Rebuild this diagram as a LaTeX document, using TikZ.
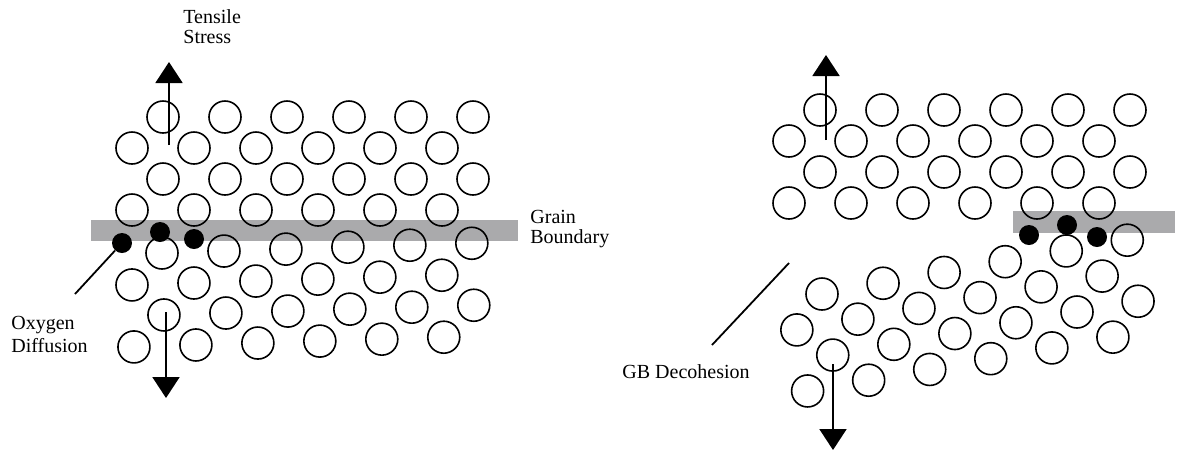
\documentclass[tikz,border=0pt]{standalone}
\usepackage{fontspec}
\setmainfont{Liberation Serif}
\usetikzlibrary{positioning}
\usetikzlibrary{arrows.meta}

\definecolor{gbgray}{RGB}{170,170,172}
\tikzset{
  atom/.style={circle, draw, line width=0.8pt, minimum size=16pt, inner sep=0pt},
  oxygen/.style={circle, fill=black, minimum size=10pt, inner sep=0pt},
  stress/.style={line width=1pt, ->},
  pointer/.style={line width=0.9pt},
  caption/.style={inner sep=0pt, align=left},
}

\begin{document}
\begin{tikzpicture}[x=0.5pt, y=-0.5pt, >={Triangle[length=10.5pt,width=13.5pt]},
    font=\fontsize{10}{10}\selectfont]
    \useasboundingbox (0,0) rectangle (1180,452);

    % grain boundaries go under the atoms
    \fill[gbgray] (91,220) rectangle (518,241);
    \fill[gbgray] (1013,211) rectangle (1175,233);

    % four grains: name/origin/tilt
    \foreach \g/\ox/\oy/\rot in {A/163/117/0, B/162/253/1.8, C/820/110/0, D/822/294/10} {
      \begin{scope}[shift={(\ox,\oy)}, rotate=\rot]
        \foreach \r in {0,...,3}
          \foreach \c in {0,...,5}
            \node[atom] (\g\r\c) at ({62*\c-31*mod(\r,2)}, {31*\r}) {};
      \end{scope}
    }

    % oxygen at the boundary
    \node[oxygen] (O1) at (122,243) {};
    \node[oxygen] (O2) at (160,232) {};
    \node[oxygen] (O3) at (194,239) {};
    \node[oxygen] (O4) at (1029,235) {};
    \node[oxygen] (O5) at (1067,225) {};
    \node[oxygen] (O6) at (1097,237) {};

    % tensile stress arrows
    \coordinate (up1) at (169,145);   \coordinate (up1t) at (169,62);
    \coordinate (dn1) at (166,312);   \coordinate (dn1t) at (166,398);
    \coordinate (up2) at (826,140);   \coordinate (up2t) at (826,55);
    \coordinate (dn2) at (833,364);   \coordinate (dn2t) at (833,450);
    \draw[stress] (up1) -- (up1t);
    \draw[stress] (dn1) -- (dn1t);
    \draw[stress] (up2) -- (up2t);
    \draw[stress] (dn2) -- (dn2t);

    % labels
    \node[caption, anchor=north west] (tensile) at (183,9) {Tensile\\Stress};
    \node[caption, anchor=north west] (boundary) at (530,210) {Grain\\Boundary};
    \node[caption, anchor=north west] (diffusion) at (11,316) {Oxygen\\[1.5pt]Diffusion};
    \node[caption, anchor=base west] (decohesion) at (622,378) {GB Decohesion};

    \coordinate (oxytail) at (75,294);
    \coordinate (gbtail) at (712,345);
    \coordinate (gbhead) at (789,263);
    \draw[pointer] (O1) -- (oxytail);
    \draw[pointer] (gbtail) -- (gbhead);
\end{tikzpicture}
\end{document}
